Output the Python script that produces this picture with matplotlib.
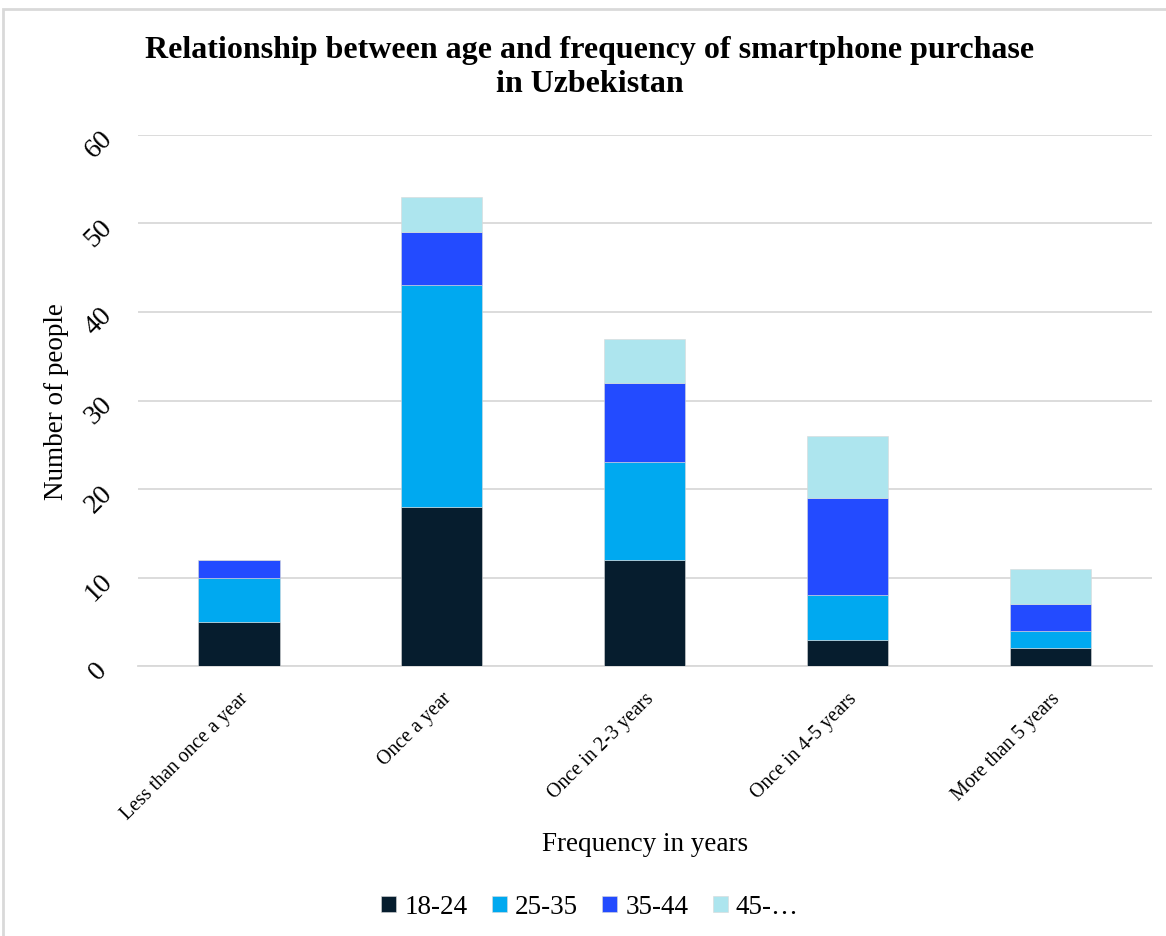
import matplotlib
matplotlib.use("Agg")
import matplotlib.pyplot as plt
import numpy as np
from matplotlib.patches import Rectangle

plt.rcParams["font.family"] = ["Liberation Serif", "DejaVu Serif"]

categories = ["Less than once a year", "Once a year", "Once in 2-3 years",
              "Once in 4-5 years", "More than 5 years"]
age_groups = ["18-24", "25-35", "35-44", "45-\u2026"]
age_18_24 = [5, 18, 12, 3, 2]
age_25_35 = [5, 25, 11, 5, 2]
age_35_44 = [2, 6, 9, 11, 3]
age_45_up = [0, 4, 5, 7, 4]
colors = ["#061D2E", "#00A9F0", "#234BFF", "#ADE5EE"]

fig = plt.figure(figsize=(11.66, 9.37), dpi=100)
ax = fig.add_axes([0.118, 0.288, 0.870, 0.567])

x = np.arange(len(categories))
bottom = np.zeros(len(categories))
for name, vals, c in zip(age_groups, [age_18_24, age_25_35, age_35_44, age_45_up], colors):
    ax.bar(x, vals, 0.4, bottom=bottom, color=c, label=name,
           edgecolor="#d9d9d9", linewidth=0.4, zorder=3)
    bottom += np.array(vals)

ax.set_xlim(-0.5, len(categories) - 0.5)
ax.set_ylim(0, 60)
ax.set_yticks(range(0, 61, 10))
ax.yaxis.grid(True, color="#d9d9d9", linewidth=1.3, zorder=0)
for s in ["top", "right", "left"]:
    ax.spines[s].set_visible(False)
ax.spines["bottom"].set_color("#d9d9d9")
ax.spines["bottom"].set_linewidth(1.3)
ax.tick_params(length=0)

ax.set_xticks(x)
ax.set_xticklabels(categories, rotation=45, ha="right", rotation_mode="anchor",
                   fontsize=14.3)
ax.tick_params(axis="x", pad=16)
ax.tick_params(axis="y", pad=28)
for lbl in ax.get_yticklabels():
    lbl.set_rotation(45)
    lbl.set_fontsize(20)
    lbl.set_ha("center")
    lbl.set_va("center_baseline")

ax.set_ylabel("Number of people", fontsize=19.5, labelpad=8)
ax.set_xlabel("Frequency in years", fontsize=19.5, labelpad=6)

fig.text(0.506, 0.962, "Relationship between age and frequency of smartphone purchase\nin Uzbekistan",
         ha="center", va="top", fontsize=23, fontweight="bold", linespacing=1.25)

fig.legend(loc="center", bbox_to_anchor=(0.506, 0.031), ncol=4, frameon=False,
           fontsize=19.5, handlelength=0.55, handleheight=0.55, handletextpad=0.3,
           columnspacing=0.9)

fig.patches.append(Rectangle((0.003, -0.05), 1.5, 1.039, transform=fig.transFigure,
                             fill=False, edgecolor="#d9d9d9", linewidth=2))

fig.savefig("out.png", dpi=100)
